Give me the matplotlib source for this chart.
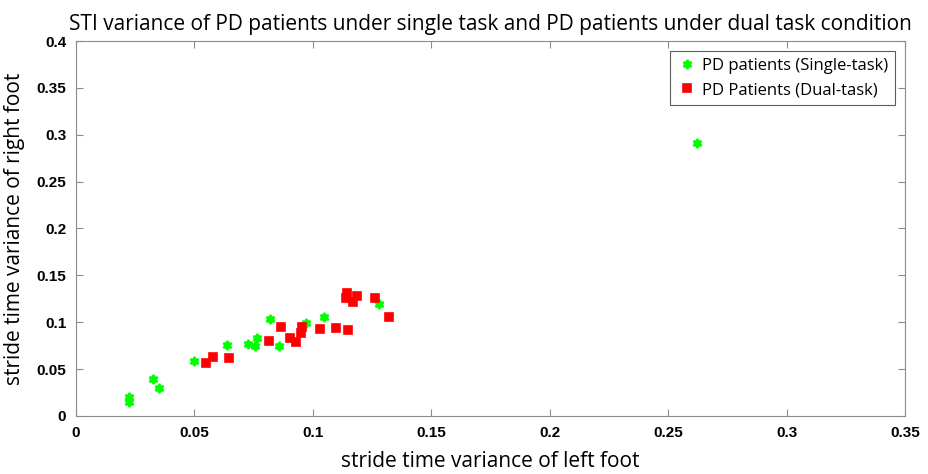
import matplotlib
matplotlib.use("Agg")
import matplotlib.pyplot as plt

# single task (green)
single_x = [0.0225, 0.0225, 0.0327, 0.0349, 0.0500, 0.0636, 0.0725, 0.0756, 0.0763,
            0.0819, 0.0857, 0.0971, 0.1047, 0.1278, 0.2620]
single_y = [0.0205, 0.0153, 0.0395, 0.0299, 0.0590, 0.0757, 0.0765, 0.0747, 0.0829,
            0.1031, 0.0747, 0.0995, 0.1053, 0.1195, 0.2915]

# dual task (red)
dual_x = [0.0549, 0.0580, 0.0647, 0.0816, 0.0864, 0.0903, 0.0929, 0.0949, 0.0953,
          0.1030, 0.1098, 0.1150, 0.1146, 0.1140, 0.1168, 0.1188, 0.1262, 0.1320]
dual_y = [0.0569, 0.0633, 0.0615, 0.0800, 0.0953, 0.0829, 0.0786, 0.0882, 0.0953,
          0.0928, 0.0942, 0.0917, 0.1309, 0.1255, 0.1220, 0.1280, 0.1262, 0.1053]

xticks = [0, 0.05, 0.1, 0.15, 0.2, 0.25, 0.3, 0.35]
yticks = [0, 0.05, 0.1, 0.15, 0.2, 0.25, 0.3, 0.35, 0.4]

fig = plt.figure(figsize=(9.29, 4.74), dpi=100)
ax = fig.add_axes([0.0818, 0.1224, 0.8923, 0.7911])

ax.plot(single_x, single_y, linestyle="none", marker=(6, 1, 0), markersize=6.5,
        markeredgewidth=1.6, color="#00ff00", label="PD patients (Single-task)")
ax.plot(dual_x, dual_y, linestyle="none", marker="s", markersize=6,
        markeredgewidth=1.2, color="#ff0000", label="PD Patients (Dual-task)")

ax.set_xlim(0, 0.35)
ax.set_ylim(0, 0.4)
ax.set_xticks(xticks)
ax.set_yticks(yticks)
ax.set_xticklabels([f"{t:g}" for t in xticks])
ax.set_yticklabels([f"{t:g}" for t in yticks])

grey = "#8c8c8c"
for s in ax.spines.values():
    s.set_color(grey)
ax.tick_params(direction="in", top=True, right=True, length=5, color=grey,
               labelsize=11, pad=7)
for lab in ax.get_xticklabels() + ax.get_yticklabels():
    lab.set_fontweight("bold")
    lab.set_family(["Liberation Sans Narrow", "Liberation Sans", "DejaVu Sans"])

txt = ["Open Sans", "DejaVu Sans"]
ax.set_title("STI variance of PD patients under single task and PD patients under dual task condition",
             fontsize=15, family=txt, pad=8)
ax.set_xlabel("stride time variance of left foot", fontsize=15, family=txt, labelpad=8)
ax.set_ylabel("stride time variance of right foot", fontsize=15, family=txt, labelpad=8)

leg = ax.legend(loc="upper right", prop={"family": txt, "size": 12}, fancybox=False,
                borderaxespad=0.6, handletextpad=0.3, handlelength=1.2)
leg.get_frame().set_edgecolor("#333333")
leg.get_frame().set_linewidth(0.8)

fig.savefig("out.png", dpi=100)
